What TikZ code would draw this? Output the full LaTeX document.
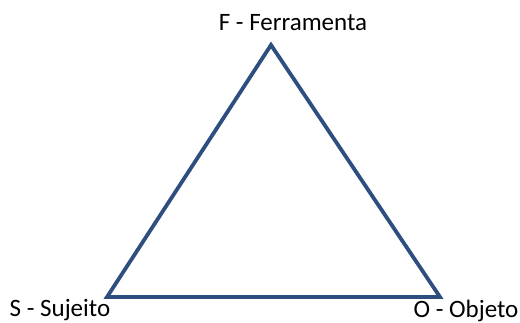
\documentclass[tikz,border=0pt]{standalone}
\usepackage{fontspec}
\setmainfont{Carlito}
\usepackage{tikz}

\definecolor{trilinha}{RGB}{47,78,128}

\begin{document}
\begin{tikzpicture}[x=1pt, y=-1pt, every node/.style={font=\fontsize{25}{28}\selectfont, inner sep=0pt}]
	\useasboundingbox (0,0) rectangle (520,323);
	\coordinate (F) at (271,45);
	\coordinate (S) at (107,297);
	\coordinate (O) at (440,297);
	\draw[trilinha, line width=3.8pt, line join=miter] (F) -- (O) -- (S) -- cycle;
	\node (lf) at (293,23) {F - Ferramenta};
	\node (ls) at (60,310) {S - Sujeito};
	\node (lo) at (466,311) {O - Objeto};
\end{tikzpicture}
\end{document}
